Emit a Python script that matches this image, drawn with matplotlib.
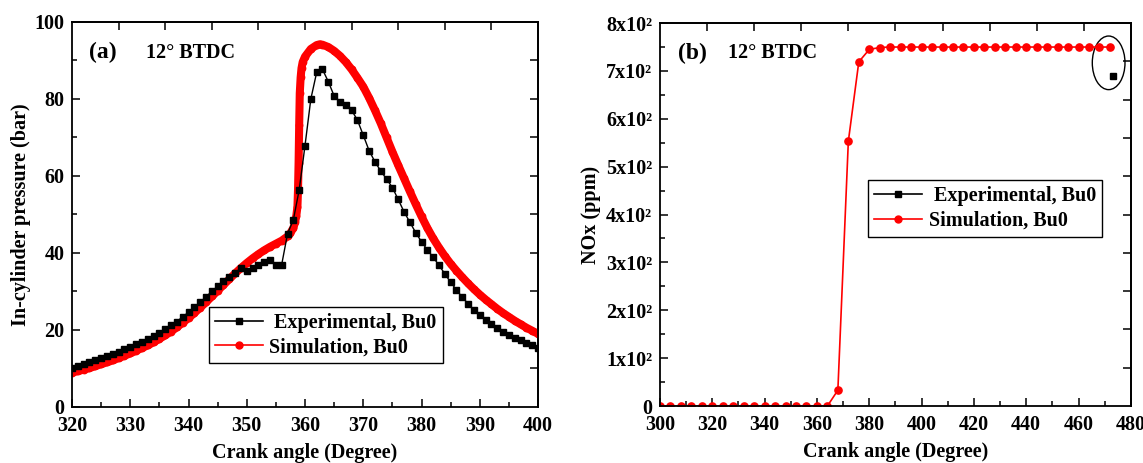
import matplotlib
matplotlib.use("Agg")
import matplotlib.pyplot as plt
import numpy as np
from matplotlib.lines import Line2D
from matplotlib.patches import Ellipse
from matplotlib.ticker import MultipleLocator

# ---- data -------------------------------------------------------------
# (a) in-cylinder pressure, experimental (1 deg steps)
exp_angle = list(range(320, 401))
exp_pressure = [
    10.2, 10.6, 11.1, 11.6, 12.1, 12.6, 13.2, 13.8, 14.4, 15.0,
    15.6, 16.3, 17.0, 17.7, 18.5, 19.3, 20.2, 21.2, 22.2, 23.4,
    24.6, 25.9, 27.2, 28.6, 30.0, 31.3, 32.6, 33.8, 34.9, 36.0,
    35.3, 36.2, 37.0, 37.6, 38.1, 37.0, 37.0, 45.0, 48.6, 56.4,
    67.9, 80.0, 86.9, 87.7, 84.5, 80.8, 79.3, 78.4, 77.1, 74.5,
    70.6, 66.6, 63.7, 61.3, 59.2, 57.0, 53.9, 50.7, 48.0, 45.3,
    42.9, 40.8, 38.9, 36.8, 34.6, 32.4, 30.4, 28.5, 26.8, 25.2,
    23.8, 22.6, 21.5, 20.5, 19.6, 18.8, 18.0, 17.3, 16.6, 16.0,
    15.4,
]

# (a) in-cylinder pressure, simulation
sim_angle = [
    320, 321, 322, 323, 324, 325, 326, 327, 328, 329,
    330, 331, 332, 333, 334, 335, 336, 337, 338, 339,
    340, 341, 342, 343, 344, 345, 346, 347, 348, 349,
    350, 351, 352, 353, 354, 355, 356, 357, 357.5, 358,
    358.3, 358.5, 358.7, 358.8, 358.9, 359.0, 359.1, 359.25, 359.4, 359.6,
    360, 361, 362, 362.5, 363, 364, 365, 366, 367, 368,
    369, 370, 371, 372, 373, 374, 375, 376, 377, 378,
    379, 380, 381, 382, 383, 384, 385, 386, 387, 388,
    389, 390, 391, 392, 393, 394, 395, 396, 397, 398,
    399, 400,
]
sim_pressure = [
    8.9, 9.3, 9.7, 10.1, 10.6, 11.1, 11.6, 12.1, 12.7, 13.3,
    13.9, 14.6, 15.3, 16.0, 16.8, 17.7, 18.6, 19.6, 20.7, 21.9,
    23.1, 24.4, 25.8, 27.2, 28.7, 30.2, 31.7, 33.2, 34.7, 36.1,
    37.4, 38.6, 39.7, 40.7, 41.6, 42.4, 43.2, 44.3, 45.2, 46.5,
    48.1, 49.6, 52.0, 56.4, 63.5, 73.2, 81.5, 85.6, 88.0, 89.6,
    91.0, 93.0, 94.0, 94.2, 94.1, 93.5, 92.5, 91.2, 89.6, 87.7,
    85.5, 83.2, 80.3, 77.1, 73.7, 70.0, 66.3, 62.8, 59.4, 56.0,
    52.7, 49.5, 46.5, 43.8, 41.4, 39.2, 37.2, 35.4, 33.7, 32.1,
    30.6, 29.2, 27.9, 26.7, 25.5, 24.4, 23.4, 22.4, 21.5, 20.6,
    19.8, 19.0,
]

# (b) NOx, simulation (4 deg steps) and the single experimental value
nox_angle = list(range(300, 473, 4))
nox_sim = [
    0, 0, 0, 0, 0, 0, 0, 0, 0, 0, 0, 0, 0, 0, 0, 0, 0,
    33, 553, 719, 745, 749,
    750, 750, 750, 750, 750, 750, 750, 750, 750, 750, 750,
    750, 750, 750, 750, 750, 750, 750, 750, 750, 750, 750,
]
nox_exp_angle = [473]
nox_exp = [690]

nox_ticks = [0, 100, 200, 300, 400, 500, 600, 700, 800]
nox_tick_labels = ["0", "1x10²", "2x10²", "3x10²", "4x10²",
                   "5x10²", "6x10²", "7x10²", "8x10²"]

legend_labels = [" Experimental, Bu0", "Simulation, Bu0"]

# ---- style -------------------------------------------------------------
plt.rcParams["font.family"] = ["Liberation Serif", "DejaVu Serif"]
plt.rcParams["font.weight"] = "bold"
plt.rcParams["axes.labelweight"] = "bold"
FS = 14.5


def style_axes(ax, xlim, ylim):
    ax.set_xlim(*xlim)
    ax.set_ylim(*ylim)
    for sp in ax.spines.values():
        sp.set_linewidth(1.3)
    ax.tick_params(which="both", direction="in", top=False, right=False,
                   labelsize=FS, width=1.1)
    ax.tick_params(which="major", length=6)
    ax.tick_params(which="minor", length=3.5)
    ax.tick_params(axis="x", which="major", pad=6.5)
    ax.tick_params(axis="y", which="major", pad=5.5)
    # unlabelled ticks on the top and right frame: ten equal divisions
    top = ax.secondary_xaxis("top")
    top.set_xticks(np.linspace(xlim[0], xlim[1], 11)[1:-1])
    top.set_xticklabels([])
    top.tick_params(direction="in", length=6, width=1.1)
    top.spines["top"].set_linewidth(1.3)
    right = ax.secondary_yaxis("right")
    right.set_yticks(np.linspace(ylim[0], ylim[1], 11)[1:-1])
    right.set_yticklabels([])
    right.tick_params(direction="in", length=6, width=1.1)
    right.spines["right"].set_linewidth(1.3)


def add_legend(ax, anchor):
    handles = [
        Line2D([], [], color="black", lw=1.2, marker="s", ms=4.2),
        Line2D([], [], color="red", lw=1.2, marker="o", ms=5),
    ]
    leg = ax.legend(handles, legend_labels, loc="upper left",
                    bbox_to_anchor=anchor, borderaxespad=0, fontsize=FS,
                    fancybox=False, edgecolor="black", framealpha=1,
                    numpoints=1, handlelength=2.4, handletextpad=0.3,
                    labelspacing=0.22, borderpad=0.3)
    leg.get_frame().set_linewidth(1.0)
    return leg


fig = plt.figure(figsize=(11.43, 4.63), dpi=100)
ax1 = fig.add_axes([0.063, 0.121, 0.4077, 0.8315])
ax2 = fig.add_axes([0.5774, 0.1231, 0.412, 0.827])

# ---- (a) pressure ------------------------------------------------------
# dense simulation markers merge into a thick band
ax1.plot(sim_angle, sim_pressure, color="red", lw=5.8,
         solid_joinstyle="round", solid_capstyle="round",
         marker="o", ms=5.6, mew=0, zorder=2)
ax1.plot(exp_angle, exp_pressure, color="black", lw=1.0,
         marker="s", ms=4.6, zorder=3)
style_axes(ax1, (320, 400), (0, 100))
ax1.xaxis.set_major_locator(MultipleLocator(10))
ax1.xaxis.set_minor_locator(MultipleLocator(5))
ax1.yaxis.set_major_locator(MultipleLocator(20))
ax1.yaxis.set_minor_locator(MultipleLocator(10))
ax1.set_xlabel("Crank angle (Degree)", fontsize=FS, labelpad=5)
ax1.set_ylabel("In-cylinder pressure (bar)", fontsize=FS)
ax1.yaxis.set_label_coords(-0.088, 0.5)
ax1.text(323.0, 92, "(a)", fontsize=17, fontweight="bold", va="center")
ax1.text(332.7, 92, "12° BTDC", fontsize=FS, fontweight="bold", va="center")
add_legend(ax1, (0.294, 0.26))

# ---- (b) NOx -----------------------------------------------------------
ax2.plot(nox_angle, nox_sim, color="red", lw=1.2, marker="o", ms=5.2, zorder=2)
ax2.plot(nox_exp_angle, nox_exp, color="black", marker="s", ms=4.4,
         linestyle="none", zorder=3)
ax2.add_patch(Ellipse((471.5, 717), width=12.5, height=112, fill=False,
                      edgecolor="black", lw=1.0))
style_axes(ax2, (300, 480), (0, 800))
ax2.xaxis.set_major_locator(MultipleLocator(20))
ax2.xaxis.set_minor_locator(MultipleLocator(10))
ax2.set_yticks(nox_ticks)
ax2.set_yticklabels(nox_tick_labels)
ax2.yaxis.set_minor_locator(MultipleLocator(50))
ax2.set_xlabel("Crank angle (Degree)", fontsize=FS, labelpad=5)
ax2.set_ylabel("NOx (ppm)", fontsize=FS)
ax2.yaxis.set_label_coords(-0.125, 0.5)
ax2.text(306.9, 737, "(b)", fontsize=17, fontweight="bold", va="center")
ax2.text(325.9, 737, "12° BTDC", fontsize=FS, fontweight="bold", va="center")
add_legend(ax2, (0.442, 0.59))

fig.savefig("out.png", dpi=100)
